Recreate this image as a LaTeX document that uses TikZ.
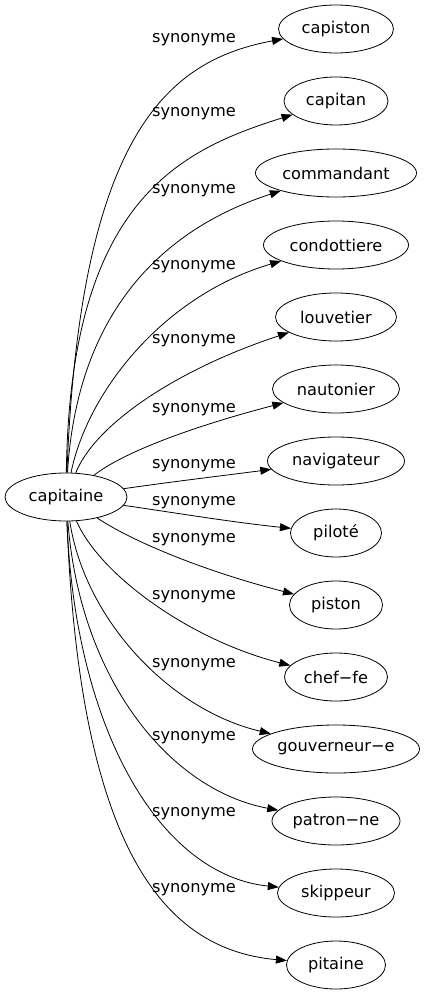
\documentclass[tikz,border=0pt]{standalone}
\usepackage{fontspec}
\setmainfont{DejaVu Sans}
\usetikzlibrary{arrows.meta,shapes.geometric}
\tikzset{
  word/.style={draw,ellipse,inner sep=0pt,minimum height=48pt,line width=0.8pt},
  syn/.style={->,line width=0.8pt},
  rel/.style={inner sep=0pt},
}
\begin{document}
\begin{tikzpicture}[x=1pt,y=-1pt,>={Triangle[length=11pt,width=8pt]},font=\fontsize{16.2}{19}\selectfont]
\useasboundingbox (0,0) rectangle (424,995);

\node[word,minimum width=122pt] (cap) at (66,497) {capitaine};

\node[word,minimum width=115pt] (capiston) at (336,29) {capiston};
\node[word,minimum width=104pt] (capitan) at (336,101) {capitan};
\node[word,minimum width=161pt] (commandant) at (336,173) {commandant};
\node[word,minimum width=145pt] (condottiere) at (336,245) {condottiere};
\node[word,minimum width=121pt] (louvetier) at (336,317) {louvetier};
\node[word,minimum width=127pt] (nautonier) at (336,389) {nautonier};
\node[word,minimum width=137pt] (navigateur) at (336,461) {navigateur};
\node[word,minimum width=91pt] (pilote) at (336,533) {piloté};
\node[word,minimum width=93pt] (piston) at (336,605) {piston};
\node[word,minimum width=103pt] (cheffe) at (336,677) {chef−fe};
\node[word,minimum width=167pt] (gouverneur) at (336,749) {gouverneur−e};
\node[word,minimum width=128pt] (patron) at (336,821) {patron−ne};
\node[word,minimum width=117pt] (skippeur) at (336,893) {skippeur};
\node[word,minimum width=99pt] (pitaine) at (336,965) {pitaine};

% edges above
\draw[syn] (cap) .. controls (80,130) and (170,60) .. (capiston);
\draw[syn] (cap) .. controls (70,200) and (180,150) .. (capitan);
\draw[syn] (cap) .. controls (78,300) and (175,225) .. (commandant);
\draw[syn] (cap) .. controls (88,390) and (165,295) .. (condottiere);
\draw[syn] (cap) .. controls (95,425) and (175,370) .. (louvetier);
\draw[syn] (cap) .. controls (120,455) and (180,430) .. (nautonier);
\draw[syn] (cap) .. controls (170,482) and (220,476) .. (navigateur);
% edges below
\draw[syn] (cap) .. controls (170,512) and (230,522) .. (pilote);
\draw[syn] (cap) .. controls (130,540) and (200,570) .. (piston);
\draw[syn] (cap) .. controls (100,575) and (190,640) .. (cheffe);
\draw[syn] (cap) .. controls (85,620) and (170,710) .. (gouverneur);
\draw[syn] (cap) .. controls (80,680) and (170,790) .. (patron);
\draw[syn] (cap) .. controls (75,730) and (160,875) .. (skippeur);
\draw[syn] (cap) .. controls (80,860) and (170,950) .. (pitaine);

\node[rel] (l1) at (194,40) {synonyme};
\node[rel] (l2) at (194,114) {synonyme};
\node[rel] (l3) at (194,191) {synonyme};
\node[rel] (l4) at (194,267) {synonyme};
\node[rel] (l5) at (194,341) {synonyme};
\node[rel] (l6) at (194,410) {synonyme};
\node[rel] (l7) at (194,466) {synonyme};
\node[rel] (l8) at (194,503) {synonyme};
\node[rel] (l9) at (194,540) {synonyme};
\node[rel] (l10) at (194,597) {synonyme};
\node[rel] (l11) at (194,665) {synonyme};
\node[rel] (l12) at (194,738) {synonyme};
\node[rel] (l13) at (194,814) {synonyme};
\node[rel] (l14) at (194,890) {synonyme};
\end{tikzpicture}
\end{document}
